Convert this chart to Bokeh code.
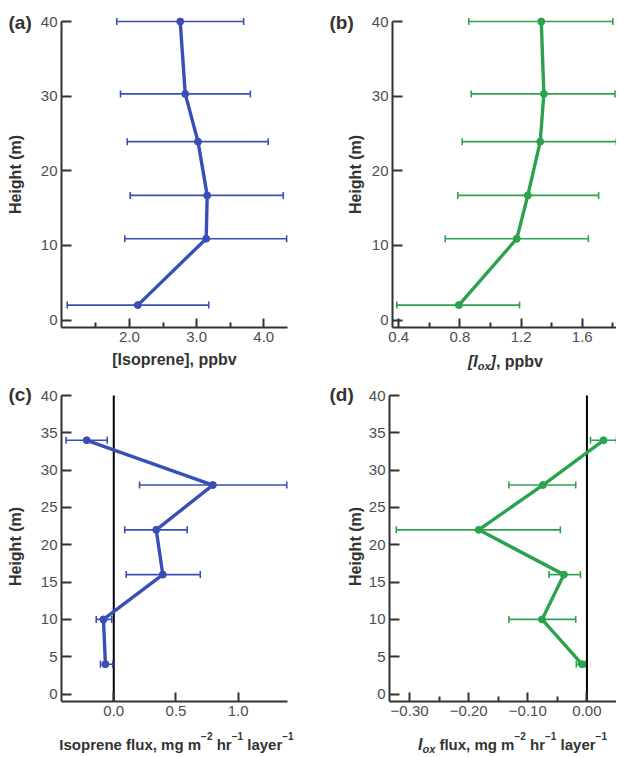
import math
from bokeh.plotting import figure
from bokeh.models import (Range1d, FixedTicker, Whisker, TeeHead, ColumnDataSource,
                          Label, LinearAxis, CustomJSTickFormatter)
from bokeh.layouts import column, row
from bokeh.embed import file_html
from bokeh.resources import INLINE

# ---------------- data ----------------
height_conc = [40, 30.3, 23.9, 16.7, 10.9, 2.0]
isoprene = [2.755, 2.83, 3.02, 3.157, 3.142, 2.124]
isoprene_lo = [1.81, 1.866, 1.966, 2.01, 1.93, 1.072]
isoprene_hi = [3.70, 3.80, 4.065, 4.29, 4.34, 3.18]

iox = [1.332, 1.349, 1.325, 1.244, 1.172, 0.793]
iox_lo = [0.858, 0.874, 0.815, 0.786, 0.704, 0.387]
iox_hi = [1.80, 1.814, 1.823, 1.707, 1.64, 1.19]

height_flux = [34, 28, 22, 16, 10, 4]
iso_flux = [-0.217, 0.796, 0.341, 0.394, -0.083, -0.067]
iso_flux_lo = [-0.383, 0.207, 0.088, 0.10, -0.141, -0.107]
iso_flux_hi = [-0.053, 1.39, 0.59, 0.695, -0.016, -0.008]

iox_flux = [0.028, -0.0745, -0.183, -0.039, -0.076, -0.0085]
iox_flux_lo = [0.006, -0.132, -0.3225, -0.064, -0.132, -0.018]
iox_flux_hi = [0.050, -0.019, -0.045, -0.011, -0.019, -0.003]

conc_y_ticks = [0, 10, 20, 30, 40]
flux_y_ticks = [0, 5, 10, 15, 20, 25, 30, 35, 40]
a_x_ticks, a_x_minor = [2.0, 3.0, 4.0], [1.5, 2.5, 3.5]
b_x_ticks, b_x_minor = [0.4, 0.8, 1.2, 1.6], [0.6, 1.0, 1.4, 1.8]
c_x_ticks, c_x_minor = [0.0, 0.5, 1.0], []
d_x_ticks, d_x_minor = [-0.30, -0.20, -0.10, 0.00], [-0.25, -0.15, -0.05, 0.05]

# ---------------- styling ----------------
FONT = "Liberation Sans"
BLUE = "#3a4fb5"
GREEN = "#2ba34c"
AXIS = "#333333"
TICKC = "#4d4d4d"
LABELC = "#333333"

W_BOLD = {' ': 278, ',': 278, '[': 333, ']': 333, '(': 333, ')': 333, 'I': 278,
          's': 556, 'o': 611, 'p': 611, 'r': 389, 'e': 556, 'n': 611, 'f': 333,
          'l': 278, 'u': 611, 'x': 556, 'm': 889, 'g': 611, 'h': 611, 'a': 556,
          'y': 556, 'b': 611, 'v': 556, '\u2212': 584, '1': 556, '2': 556}


def tw(s, size):
    return sum(W_BOLD.get(ch, 556) for ch in s) * size / 1000.0


def style_axis(ax, tick_in, minor_in, standoff):
    ax.axis_line_color = AXIS
    ax.axis_line_width = 2
    ax.major_tick_line_color = AXIS
    ax.major_tick_line_width = 2
    ax.minor_tick_line_color = AXIS
    ax.minor_tick_line_width = 2
    ax.major_tick_out = 0
    ax.minor_tick_out = 0
    ax.major_tick_in = tick_in
    ax.minor_tick_in = minor_in
    ax.major_label_standoff = standoff
    ax.major_label_text_font = FONT
    ax.major_label_text_font_size = "15px"
    ax.major_label_text_color = TICKC


def make_panel(cx0, cy0, W, H, fl, ft, fw, fh, xr, yr, xticks, xminor, xdec,
               yticks, ys, xs, lo, hi, color, zero_line):
    # linear maps page pixel -> data, defined by the inner plotting box
    def X(px):
        return xr[0] + (px - fl) / fw * (xr[1] - xr[0])

    def Y(py):
        return yr[1] - (py - ft) / fh * (yr[1] - yr[0])

    p = figure(width=W, height=H, min_border=0,
               x_range=Range1d(X(cx0), X(cx0 + W)), y_range=Range1d(Y(cy0 + H), Y(cy0)),
               x_axis_location=None, y_axis_location=None,
               output_backend="svg", toolbar_location=None, tools="", title=None)
    p.outline_line_color = None
    p.xgrid.visible = False
    p.ygrid.visible = False
    p.background_fill_color = "white"
    p.border_fill_color = "white"

    xaxis = LinearAxis(fixed_location=yr[0], bounds=xr,
                       ticker=FixedTicker(ticks=xticks, minor_ticks=xminor),
                       formatter=CustomJSTickFormatter(
                           code="return tick.toFixed(%d).replace('-', '\u2212');" % xdec))
    style_axis(xaxis, 9, 5, 4)
    yaxis = LinearAxis(fixed_location=xr[0], bounds=yr,
                       ticker=FixedTicker(ticks=yticks, minor_ticks=[]),
                       formatter=CustomJSTickFormatter(code="return tick.toFixed(0);"))
    style_axis(yaxis, 10, 0, 4)
    p.add_layout(xaxis, "below")
    p.add_layout(yaxis, "left")

    if zero_line:
        p.segment(x0=[0], y0=[yr[0]], x1=[0], y1=[yr[1]], line_color="black",
                  line_width=2, level="underlay")

    src = ColumnDataSource(dict(x=xs, y=ys, lo=lo, hi=hi))
    p.add_layout(Whisker(source=src, base="y", lower="lo", upper="hi", dimension="width",
                         line_color=color, line_width=1.6,
                         lower_head=TeeHead(size=7, line_color=color, line_width=1.6),
                         upper_head=TeeHead(size=7, line_color=color, line_width=1.6)))
    p.line("x", "y", source=src, line_color=color, line_width=3.4)
    p.scatter("x", "y", source=src, marker="circle", size=7, color=color)
    return p, X, Y


def add_parts(p, X, Y, cx, cy, parts):
    total = sum(tw(t, s) for t, s, st, dy in parts)
    x = cx - total / 2.0
    for t, s, st, dy in parts:
        lead = len(t) - len(t.lstrip(' '))
        x += tw(' ' * lead, s)
        t2 = t.lstrip(' ')
        p.add_layout(Label(x=X(x), y=Y(cy + dy), text=t2, text_font=FONT,
                           text_font_size="%dpx" % s, text_font_style=st,
                           text_color=LABELC, text_align="left", text_baseline="middle"))
        x += tw(t2, s)


def add_text(p, X, Y, px, py, text, size, align="left", angle=0.0):
    p.add_layout(Label(x=X(px), y=Y(py), text=text, text_font=FONT,
                       text_font_size="%dpx" % size, text_font_style="bold",
                       text_color=LABELC, text_align=align, text_baseline="middle",
                       angle=angle, angle_units="rad"))


OX, OY = 1, 1   # observed page origin of the layout

# ---- panel (a)
pa, Xa, Ya = make_panel(OX, OY, 327, 375, 62, 22, 226, 306, (0.987, 4.353), (-1, 40),
                        a_x_ticks, a_x_minor, 1, conc_y_ticks,
                        height_conc, isoprene, isoprene_lo, isoprene_hi, BLUE, False)
add_text(pa, Xa, Ya, 9, 23, "(a)", 19)
add_text(pa, Xa, Ya, 16, 175, "Height (m)", 16, "center", math.pi / 2)
add_parts(pa, Xa, Ya, 175, 360, [("[Isoprene], ppbv", 16, "bold", 0)])

# ---- panel (b)
pb, Xb, Yb = make_panel(328, OY, 289, 375, 393, 22, 224, 306, (0.359, 1.824), (-1, 40),
                        b_x_ticks, b_x_minor, 1, conc_y_ticks,
                        height_conc, iox, iox_lo, iox_hi, GREEN, False)
add_text(pb, Xb, Yb, 330, 23, "(b)", 19)
add_text(pb, Xb, Yb, 356, 175, "Height (m)", 16, "center", math.pi / 2)
add_parts(pb, Xb, Yb, 506, 362, [("[I", 16, "bold italic", 0), ("ox", 11, "bold italic", 4),
                                  ("]", 16, "bold italic", 0), (", ppbv", 16, "bold", 0)])

# ---- panel (c)
pc, Xc, Yc = make_panel(OX, 376, 327, 379, 62, 396, 226, 306, (-0.420, 1.396), (-1, 40),
                        c_x_ticks, c_x_minor, 1, flux_y_ticks,
                        height_flux, iso_flux, iso_flux_lo, iso_flux_hi, BLUE, True)
add_text(pc, Xc, Yc, 9, 395, "(c)", 19)
add_text(pc, Xc, Yc, 16, 547, "Height (m)", 16, "center", math.pi / 2)
add_parts(pc, Xc, Yc, 177, 745, [("Isoprene flux, mg m", 15, "bold", 0),
                                  ("\u22122", 10, "bold", -9), (" hr", 15, "bold", 0),
                                  ("\u22121", 10, "bold", -9), (" layer", 15, "bold", 0),
                                  ("\u22121", 10, "bold", -9)])

# ---- panel (d)
pd, Xd, Yd = make_panel(328, 376, 289, 379, 390, 396, 227, 306, (-0.334, 0.050), (-1, 40),
                        d_x_ticks, d_x_minor, 2, flux_y_ticks,
                        height_flux, iox_flux, iox_flux_lo, iox_flux_hi, GREEN, True)
add_text(pd, Xd, Yd, 330, 395, "(d)", 19)
add_text(pd, Xd, Yd, 356, 547, "Height (m)", 16, "center", math.pi / 2)
add_parts(pd, Xd, Yd, 513, 745, [("I", 16, "bold italic", 0), ("ox", 11, "bold italic", 4),
                                  (" flux, mg m", 15, "bold", 0),
                                  ("\u22122", 10, "bold", -9), (" hr", 15, "bold", 0),
                                  ("\u22121", 10, "bold", -9), (" layer", 15, "bold", 0),
                                  ("\u22121", 10, "bold", -9)])

layout = column(row(pa, pb), row(pc, pd))
open("out.html", "w").write(file_html(layout, INLINE))
